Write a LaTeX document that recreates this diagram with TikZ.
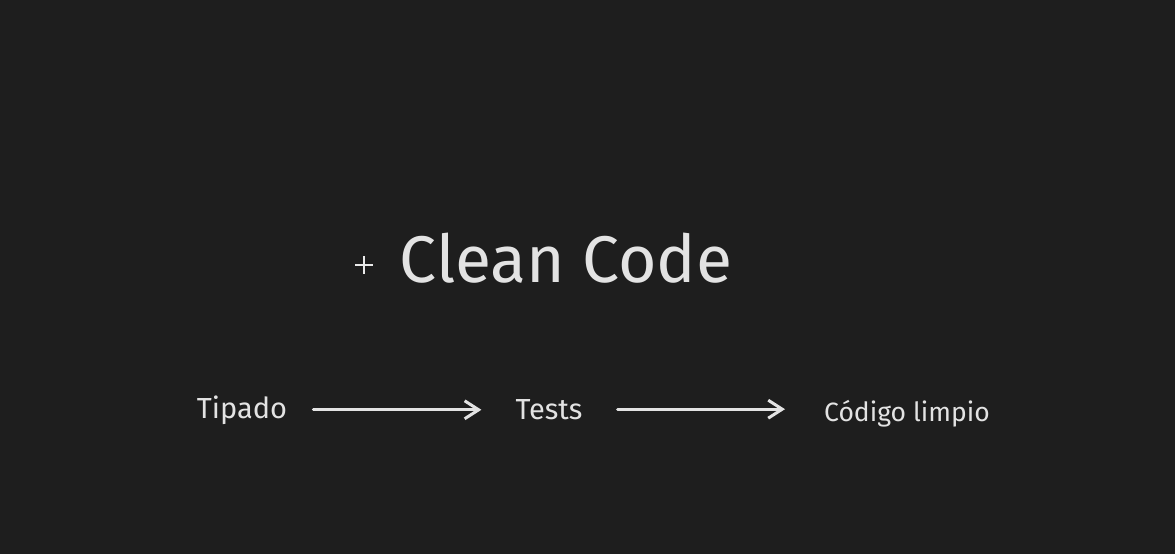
\documentclass[tikz,border=0pt]{standalone}
\usepackage{fontspec}
\setmainfont{Fira Sans}
\usetikzlibrary{positioning,arrows.meta}
\definecolor{canvas}{HTML}{1E1E1E}
\definecolor{chalk}{HTML}{E3E3E3}
\tikzset{>={Straight Barb[length=14pt,width=18pt]}}

\begin{document}
\begin{tikzpicture}[
    x=1pt, y=-1pt,
    title/.style={text=chalk, font=\fontsize{66}{68}\selectfont, inner sep=0pt, anchor=base},
    item/.style={text=chalk, font=\fontsize{29}{30}\selectfont, inner sep=0pt, anchor=base},
    flow/.style={->, draw=chalk, line width=3pt, line cap=round}
]
\fill[canvas] (0,0) rectangle (1175,554);

\node[title] (clean) at (566,282) {Clean Code};
\draw[chalk!75, line width=1.2pt] (355,265) -- (373,265) (364,256) -- (364,274);

\node[item] (tipado) at (242,418) {Tipado};
\node[item] (tests) at (549,419) {Tests};
\node[item, font=\fontsize{26.5}{28}\selectfont] (limpio) at (907,421) {Código limpio};

\draw[flow, shorten <=26pt, shorten >=34pt] (tipado.east) -- (tipado.east -| tests.west);
\draw[flow, shorten <=35pt, shorten >=39pt] (tests.east) -- (tests.east -| limpio.west);
\end{tikzpicture}
\end{document}
